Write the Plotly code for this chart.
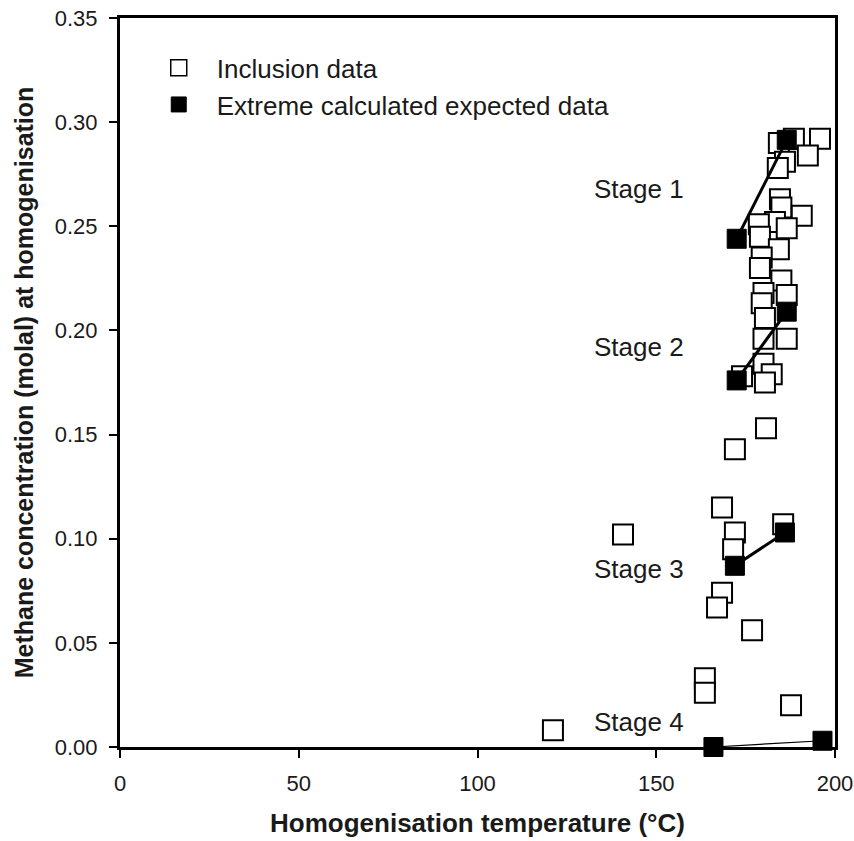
import plotly.graph_objects as go

# Inclusion data (open squares)
incl_t = [195.8, 188.5, 184.3, 192.4, 186.0, 184.0, 184.6, 185.0, 190.7, 183.2,
          186.5, 178.7, 179.0, 184.3, 179.5, 179.0, 185.0, 180.0, 186.5, 179.5,
          180.4, 180.0, 186.5, 180.0, 182.3, 180.4, 174.0,
          172.0, 180.7, 168.4, 172.0, 171.5, 185.5, 140.7, 168.4, 167.0, 176.8,
          163.6, 163.6, 187.7, 121.1]
incl_c = [0.292, 0.292, 0.290, 0.284, 0.281, 0.278, 0.263, 0.259, 0.255, 0.252,
          0.249, 0.251, 0.245, 0.239, 0.235, 0.230, 0.224, 0.218, 0.217, 0.213,
          0.206, 0.196, 0.196, 0.184, 0.179, 0.175, 0.178,
          0.143, 0.153, 0.115, 0.103, 0.095, 0.107, 0.102, 0.074, 0.067, 0.056,
          0.033, 0.026, 0.020, 0.008]

# Extreme calculated expected data, per stage (two end points each)
stage_names = ["Stage 1", "Stage 2", "Stage 3", "Stage 4"]
exp_t = [[172.5, 186.5], [172.5, 186.5], [172.0, 186.0], [166.0, 196.5]]
exp_c = [[0.244, 0.2915], [0.176, 0.209], [0.087, 0.103], [0.0, 0.003]]
line_widths = [3, 3, 3, 1.2]

# Stage label positions (data coords)
label_t = [145.3, 145.3, 145.3, 145.3]
label_c = [0.268, 0.192, 0.0855, 0.012]

x_ticks = [0, 50, 100, 150, 200]
y_ticks = [0.0, 0.05, 0.10, 0.15, 0.20, 0.25, 0.30, 0.35]

FONT = "Liberation Sans, Arial, sans-serif"
TXT = "#1a1a1a"

fig = go.Figure()

fig.add_trace(go.Scatter(
    x=incl_t, y=incl_c, mode="markers", showlegend=False, cliponaxis=False,
    marker=dict(symbol="square", size=20, color="white",
                line=dict(color="black", width=2)),
))

for t, c, w in zip(exp_t, exp_c, line_widths):
    fig.add_trace(go.Scatter(
        x=t, y=c, mode="lines+markers", showlegend=False, cliponaxis=False,
        line=dict(color="black", width=w),
        marker=dict(symbol="square", size=19, color="black",
                    line=dict(color="black", width=1)),
    ))

# legend entries
fig.add_trace(go.Scatter(
    x=[None], y=[None], mode="markers", name="Inclusion data",
    marker=dict(symbol="square", size=16, color="white",
                line=dict(color="black", width=1.5)),
))
fig.add_trace(go.Scatter(
    x=[None], y=[None], mode="markers", name="Extreme calculated expected data",
    marker=dict(symbol="square", size=15, color="black",
                line=dict(color="black", width=1)),
))

for name, t, c in zip(stage_names, label_t, label_c):
    fig.add_annotation(x=t, y=c, text=name, showarrow=False,
                       font=dict(family=FONT, size=26, color=TXT),
                       xanchor="center", yanchor="middle")

axis_common = dict(
    showline=True, linecolor="black", linewidth=3, mirror=True,
    showgrid=False, zeroline=False, automargin=False,
    ticks="outside", ticklen=8, tickwidth=2, tickcolor="black",
    tickfont=dict(family=FONT, size=22, color=TXT),
    ticklabeloverflow="allow",
)

fig.update_layout(
    width=854, height=841,
    margin=dict(l=120, r=19, t=18, b=94),
    paper_bgcolor="white", plot_bgcolor="white",
    font=dict(family=FONT),
    xaxis=dict(range=[0, 200], tickvals=x_ticks, ticktext=[str(v) for v in x_ticks],
               ticklabelstandoff=7,
               title=dict(text="<b>Homogenisation temperature (°C)</b>",
                          font=dict(family=FONT, size=26, color=TXT), standoff=19),
               **axis_common),
    yaxis=dict(range=[0, 0.35], tickvals=y_ticks,
               ticktext=[f"{v:.2f}" for v in y_ticks],
               ticklabelstandoff=7,
               title=dict(text="<b>Methane concentration (molal) at homogenisation</b>",
                          font=dict(family=FONT, size=25, color=TXT), standoff=15),
               **axis_common),
    legend=dict(x=0.029, y=0.964, xanchor="left", yanchor="top",
                bgcolor="rgba(0,0,0,0)", borderwidth=0,
                font=dict(family=FONT, size=26, color=TXT),
                itemsizing="trace", itemwidth=66),
)

fig.write_html("out.html",
               config={"displayModeBar": False},
               post_script="document.body.style.margin='0';document.body.style.overflow='hidden';")
